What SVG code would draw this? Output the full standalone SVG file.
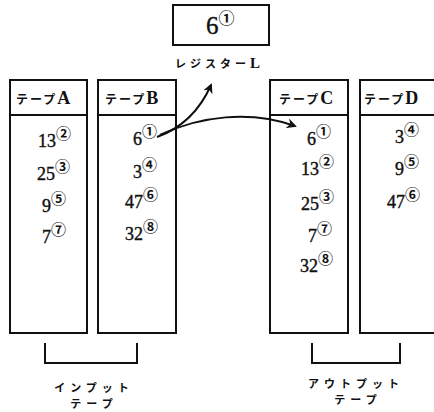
<svg xmlns="http://www.w3.org/2000/svg" width="434" height="412" viewBox="0 0 434 412">
<style>
.box{fill:#fff;stroke:#111;stroke-width:2}
.num{font-family:"Liberation Serif",serif;font-size:18px;fill:#111;stroke:#111;stroke-width:0.4}
.cir{font-family:"Noto Sans CJK JP","DejaVu Sans",sans-serif;font-size:15px;font-weight:bold;fill:#111;stroke:none}
.hdr{font-family:"Noto Sans CJK JP",sans-serif;font-size:12px;font-weight:bold;fill:#111;letter-spacing:2px}
.hl{font-family:"Liberation Serif",serif;font-size:18px;font-weight:bold;fill:#111;letter-spacing:0}
.lbl{font-family:"Noto Sans CJK JP",sans-serif;font-size:11px;font-weight:bold;fill:#111;letter-spacing:5px}
.con{fill:none;stroke:#111;stroke-width:2}
</style>
<defs>
<marker id="ah" markerWidth="10" markerHeight="10" refX="8" refY="5" orient="auto" markerUnits="userSpaceOnUse">
<path d="M0,0 L10,5 L0,10 L3,5 Z" fill="#111"/>
</marker>
</defs>
<rect width="434" height="412" fill="#fff"/>

<g id="register">
<rect class="box" x="173" y="5" width="96" height="40"/>
<text class="num" x="206" y="34" style="font-size:25px">6<tspan class="cir" dy="-10" style="font-size:16px">①</tspan></text>
<text class="hdr" x="175" y="68" style="font-size:11px;letter-spacing:4px">レジスター<tspan class="hl" style="font-size:15px">L</tspan></text>
</g>

<g id="tapeA">
<rect class="box" x="10" y="80" width="77" height="35"/>
<rect class="box" x="10" y="115" width="77" height="218"/>
<text class="hdr" x="16" y="104">テープ<tspan class="hl">A</tspan></text>
<text class="num" x="38" y="147">13<tspan class="cir" dy="-8">②</tspan></text>
<text class="num" x="37" y="180">25<tspan class="cir" dy="-8">③</tspan></text>
<text class="num" x="42" y="212">9<tspan class="cir" dy="-8">⑤</tspan></text>
<text class="num" x="42" y="243">7<tspan class="cir" dy="-8">⑦</tspan></text>
</g>

<g id="tapeB">
<rect class="box" x="98" y="80" width="78" height="35"/>
<rect class="box" x="98" y="115" width="78" height="218"/>
<text class="hdr" x="105" y="104">テープ<tspan class="hl">B</tspan></text>
<text class="num" x="133" y="145">6<tspan class="cir" dy="-8">①</tspan></text>
<text class="num" x="133" y="178">3<tspan class="cir" dy="-8">④</tspan></text>
<text class="num" x="125" y="208">47<tspan class="cir" dy="-8">⑥</tspan></text>
<text class="num" x="125" y="240">32<tspan class="cir" dy="-8">⑧</tspan></text>
</g>

<g id="tapeC">
<rect class="box" x="270" y="80" width="78" height="35"/>
<rect class="box" x="270" y="115" width="78" height="218"/>
<text class="hdr" x="279" y="104">テープ<tspan class="hl">C</tspan></text>
<text class="num" x="307" y="145">6<tspan class="cir" dy="-8">①</tspan></text>
<text class="num" x="301" y="175">13<tspan class="cir" dy="-8">②</tspan></text>
<text class="num" x="301" y="210">25<tspan class="cir" dy="-8">③</tspan></text>
<text class="num" x="308" y="242">7<tspan class="cir" dy="-8">⑦</tspan></text>
<text class="num" x="300" y="272">32<tspan class="cir" dy="-8">⑧</tspan></text>
</g>

<g id="tapeD">
<rect class="box" x="360" y="80" width="80" height="35"/>
<rect class="box" x="360" y="115" width="80" height="218"/>
<text class="hdr" x="364" y="104">テープ<tspan class="hl">D</tspan></text>
<text class="num" x="395" y="143">3<tspan class="cir" dy="-8">④</tspan></text>
<text class="num" x="395" y="175">9<tspan class="cir" dy="-8">⑤</tspan></text>
<text class="num" x="387" y="208">47<tspan class="cir" dy="-8">⑥</tspan></text>
</g>

<g id="inputLabel">
<path class="con" d="M45 343 V363 H137 V343"/>
<text class="lbl" x="94" y="392" text-anchor="middle">インプット</text>
<text class="lbl" x="94" y="408" text-anchor="middle">テープ</text>
</g>

<g id="outputLabel">
<path class="con" d="M312 343 V363 H400 V343"/>
<text class="lbl" x="356" y="388" text-anchor="middle">アウトプット</text>
<text class="lbl" x="358" y="404" text-anchor="middle">テープ</text>
</g>

<g id="connectors">
<path class="con" d="M157 137 C182 128 200 110 211 85" marker-end="url(#ah)"/>
<path class="con" d="M160 135 C200 116 250 110 295 126" marker-end="url(#ah)"/>
</g>
</svg>
